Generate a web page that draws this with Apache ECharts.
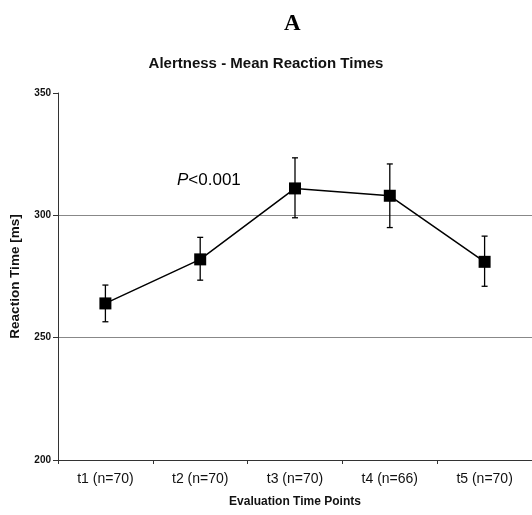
<!DOCTYPE html>
<html><head><meta charset="utf-8">
<script src="https://cdn.jsdelivr.net/npm/echarts@6/dist/echarts.min.js"></script>
<style>html,body{margin:0;padding:0;background:#fff}#c{width:532px;height:515px}</style>
</head><body><div id="c"></div>
<script>
const categories = ['t1 (n=70)', 't2 (n=70)', 't3 (n=70)', 't4 (n=66)', 't5 (n=70)'];
const meanRT = [264, 282, 311, 308, 281];
const errLow = [256.5, 273.5, 299, 295, 271];
const errHigh = [271.5, 291, 323.5, 321, 291.5];
const yTicks = [200, 250, 300, 350];

const chart = echarts.init(document.getElementById('c'));
chart.setOption({
  animation: false,
  backgroundColor: '#fff',
  title: [
    {text: 'A', left: 279, top: 8, textStyle: {fontFamily: 'Liberation Serif', fontWeight: 'bold', fontSize: 23, color: '#000'}},
    {text: 'Alertness - Mean Reaction Times', left: 'center', top: 51, textStyle: {fontFamily: 'Liberation Sans', fontWeight: 'bold', fontSize: 15, color: '#111'}}
  ],
  grid: {left: 54, right: 0, top: 93, bottom: 55},
  xAxis: {
    type: 'category', data: categories, boundaryGap: true,
    name: 'Evaluation Time Points', nameLocation: 'middle', nameGap: 36,
    nameTextStyle: {fontFamily: 'Liberation Sans', fontWeight: 'bold', fontSize: 12, color: '#111'},
    axisLine: {lineStyle: {color: '#333', width: 1}},
    axisTick: {show: true, length: 4, lineStyle: {color: '#333'}},
    axisLabel: {fontFamily: 'Liberation Sans', fontSize: 14, color: '#111', margin: 12}
  },
  yAxis: {
    type: 'value', min: yTicks[0], max: yTicks[yTicks.length - 1], interval: 50,
    name: 'Reaction Time [ms]', nameLocation: 'middle', nameGap: 36, nameRotate: 90,
    nameTextStyle: {fontFamily: 'Liberation Sans', fontWeight: 'bold', fontSize: 13.5, color: '#111'},
    axisLine: {show: true, lineStyle: {color: '#333', width: 1}},
    axisTick: {show: true, length: 5, lineStyle: {color: '#333'}},
    axisLabel: {fontFamily: 'Liberation Sans', fontWeight: 'bold', fontSize: 10, color: '#111', margin: 7},
    splitLine: {show: true, lineStyle: {color: ['rgba(0,0,0,0)', '#888', '#888', 'rgba(0,0,0,0)'], width: 1}}
  },
  series: [
    {
      type: 'custom',
      data: categories.map((c, i) => [i, errLow[i], errHigh[i]]),
      renderItem: function (params, api) {
        const x = api.value(0);
        const lo = api.coord([x, api.value(1)]);
        const hi = api.coord([x, api.value(2)]);
        const w = 3;
        const st = {stroke: '#000', lineWidth: 1.3};
        return {type: 'group', children: [
          {type: 'line', shape: {x1: lo[0], y1: lo[1], x2: hi[0], y2: hi[1]}, style: st},
          {type: 'line', shape: {x1: lo[0]-w, y1: lo[1], x2: lo[0]+w, y2: lo[1]}, style: st},
          {type: 'line', shape: {x1: hi[0]-w, y1: hi[1], x2: hi[0]+w, y2: hi[1]}, style: st}
        ]};
      },
      z: 2
    },
    {
      type: 'line', data: meanRT, symbol: 'rect', symbolSize: 12,
      lineStyle: {color: '#000', width: 1.5},
      itemStyle: {color: '#000'},
      z: 3
    }
  ],
  graphic: [
    {type: 'text', left: 177, top: 172, style: {rich: {i: {fontStyle: 'italic', fontFamily: 'Liberation Sans', fontSize: 17, fill: '#000'}, n: {fontFamily: 'Liberation Sans', fontSize: 17, fill: '#000'}}, text: '{i|P}{n|<0.001}'}}
  ]
});
</script></body></html>
